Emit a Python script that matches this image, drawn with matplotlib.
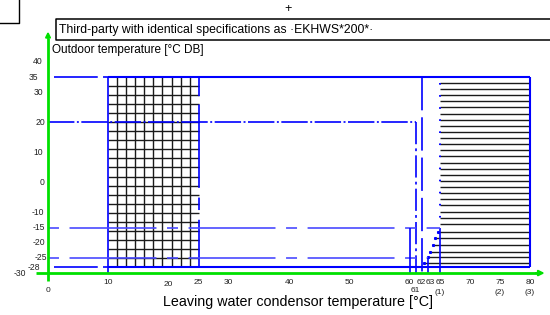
import numpy as np
import matplotlib
matplotlib.use('Agg')
from matplotlib import pyplot as plt
from matplotlib.transforms import Affine2D, blended_transform_factory

plt.rcParams['lines.scale_dashes'] = False

# operating range data (leaving water temp [°C] vs outdoor temp [°C DB])
grid_x = [10, 25]            # heat pump only area
grid_y = [-28, 35]
hatch_x = [65, 80]           # booster heater only area
hatch_y = [-28, 35]
levels_dashdot = 20          # 20 °C level
levels_phantom = [-15, -25]
limit_x = [60, 61, 62, 63, 65]
# start of the hatch lines below -15 (staircase boundary)
stair_y = [-16.4, -18.4, -20.7, -23.0, -24.7, -26.7]
stair_x = [64.7, 64.2, 63.9, 63.4, 63.0, 62.4]

y_ticks = [40, 35, 30, 20, 10, 0, -10, -15, -20, -25, -28, -30]
y_tick_px = [43, 38, 43, 45, 43, 45, 44, 45, 45, 47, 40, 26]   # right edge in pixels
x_ticks = ['0', '10', '20', '25', '30', '40', '50', '60', '61', '62', '63', '65', '70', '75', '80']
x_tick_val = [0, 10, 20, 25, 30, 40, 50, 60, 61, 62, 63, 65, 70, 75, 80]
x_tick_py = [290, 282, 284, 282, 282, 282, 282, 282, 291, 282, 282, 282, 282, 282, 282]
x_tick_dx = [0, 0, 0, 0, 0, 0, 0, 0, 0, -0.8, 2.3, 0.3, 0, 0, 0]
foot_labels = ['(1)', '(2)', '(3)']
foot_val = [65, 75, 80]

blue = '#0000ff'
lblue = '#4a4aff'
green = '#00e000'
tick_font = ['Liberation Sans', 'DejaVu Sans']
text_font = ['Liberation Sans', 'DejaVu Sans']

fig = plt.figure(figsize=(5.5, 3.15), dpi=100)
ax = fig.add_axes([0, 0, 1, 1])
ax.set_xlim(-7.97, 83.32)
ax.set_ylim(-43.9, 60.5)
ax.axis('off')

# pixel transform (top-left origin) for annotations
pix = Affine2D().scale(1 / 550, -1 / 315).translate(0, 1) + fig.transFigure
xpix = blended_transform_factory(ax.transData, pix)

# --- grid area 10..25
gx = np.arange(grid_x[0] + 1.5, grid_x[1] - 0.1, 1.5)
gy = np.arange(grid_y[1] - 3, grid_y[0] + 0.1, -3)
ax.vlines(gx, grid_y[0], grid_y[1], color='#1a1a1a', lw=1.0)
ax.hlines(gy, grid_x[0], grid_x[1], color='#1a1a1a', lw=1.0)
ax.vlines(grid_x[0], -30, grid_y[1], color=blue, lw=1.2)
ax.plot([grid_x[1]] * 2, grid_y, color=blue, lw=1.2, dashes=(34, 7, 9, 7, 60, 6))

# --- hatched area 65..80
hy = np.arange(hatch_y[1] - 2, hatch_y[0], -2.03)
ax.hlines([v for v in hy if v > -15.5], hatch_x[0], hatch_x[1], color='#1a1a1a', lw=1.0)
ax.hlines(stair_y, stair_x, hatch_x[1], color='#1a1a1a', lw=1.0)
ax.plot(stair_x, stair_y, ls='none', marker='s', ms=1.2, color=blue)
ax.vlines(hatch_x[1], hatch_y[0], hatch_y[1], color=blue, lw=1.5)
ax.plot([hatch_x[0]] * 2, [hatch_y[1] - 2, -15], color=blue, lw=1.4, dashes=(1.2, 7.5))
ax.vlines(hatch_x[0], -30, -15, color=blue, lw=1.2)

# top and bottom borders
ax.hlines([grid_y[1], grid_y[0]], grid_x[0], hatch_x[1], color=blue, lw=1.5)
for yv in [grid_y[1], grid_y[0]]:
    ax.plot([1, 10], [yv, yv], color=blue, lw=1.2, dashes=(31.5, 3.8))

# 20 °C dash-dot level
ax.plot([0, limit_x[1]], [levels_dashdot] * 2, color=blue, lw=1.2, dashes=(19, 1.8, 1.4, 1.8))
ax.plot([limit_x[1]] * 2, [levels_dashdot, -30], color=blue, lw=1.2, dashes=(16, 3, 2, 3))

# -15 / -25 phantom levels
ax.plot([0, hatch_x[0]], [levels_phantom[0]] * 2, color=lblue, lw=1.2, dashes=(7.9, 7.6, 62.6, 7.6))
ax.plot([0, limit_x[3]], [levels_phantom[1]] * 2, color=lblue, lw=1.2, dashes=(7.9, 7.6, 62.6, 7.6))
ax.vlines(limit_x[0], -30, levels_phantom[0], color=blue, lw=1.2)
ax.vlines(limit_x[3], -30, levels_phantom[1], color=blue, lw=1.2)
ax.plot([limit_x[2]] * 2, [grid_y[1], -30], color=blue, lw=1.2, dashes=(24, 5))

# axes in green
ax.plot([0, 0], [-32.5, 48], color=green, lw=2, solid_capstyle='butt')
ax.annotate('', xy=(0, 51), xytext=(0, 47),
            arrowprops=dict(arrowstyle='-|>', color=green, lw=1.5, mutation_scale=7))
ax.plot([-2, 81.5], [-30, -30], color=green, lw=2, solid_capstyle='butt')
ax.annotate('', xy=(82.9, -30), xytext=(80.5, -30),
            arrowprops=dict(arrowstyle='-|>', color=green, lw=1.5, mutation_scale=8))

# tick labels
for v, px in zip(y_ticks, y_tick_px):
    ax.text(px, 182.6 - 3.016 * v, str(v), transform=pix, ha='right', va='center',
            fontsize=6.2, family=tick_font, color='#222222')
for lab, v, py, dx in zip(x_ticks, x_tick_val, x_tick_py, x_tick_dx):
    ax.annotate(lab, xy=(v, py), xycoords=xpix, xytext=(dx * 0.72, 0),
                textcoords='offset points', ha='center', va='center',
                fontsize=6.0, family=tick_font, color='#222222')
for lab, v in zip(foot_labels, foot_val):
    ax.text(v, 293, lab, transform=xpix, ha='center', va='center',
            fontsize=6.0, family=tick_font, color='#222222')

# texts and frames
ax.plot([0, 19, 19], [23, 23, 0], color='black', lw=1.0, transform=pix, clip_on=False)
ax.text(288, 9, '+', transform=pix, ha='center', va='center', fontsize=9, family=text_font)
ax.plot([550, 56, 56, 550], [19, 19, 40, 40], color='black', lw=1.1, transform=pix, clip_on=False)
ax.text(59, 30, 'Third-party with identical specifications as ·EKHWS*200*·', transform=pix,
        ha='left', va='center', fontsize=8.8, family=text_font)
ax.text(52, 50, 'Outdoor temperature [°C DB]', transform=pix,
        ha='left', va='center', fontsize=8.5, family=text_font)
ax.text(298, 302, 'Leaving water condensor temperature [°C]', transform=pix,
        ha='center', va='center', fontsize=10.3, family=text_font)

fig.savefig('out.png', dpi=100)
